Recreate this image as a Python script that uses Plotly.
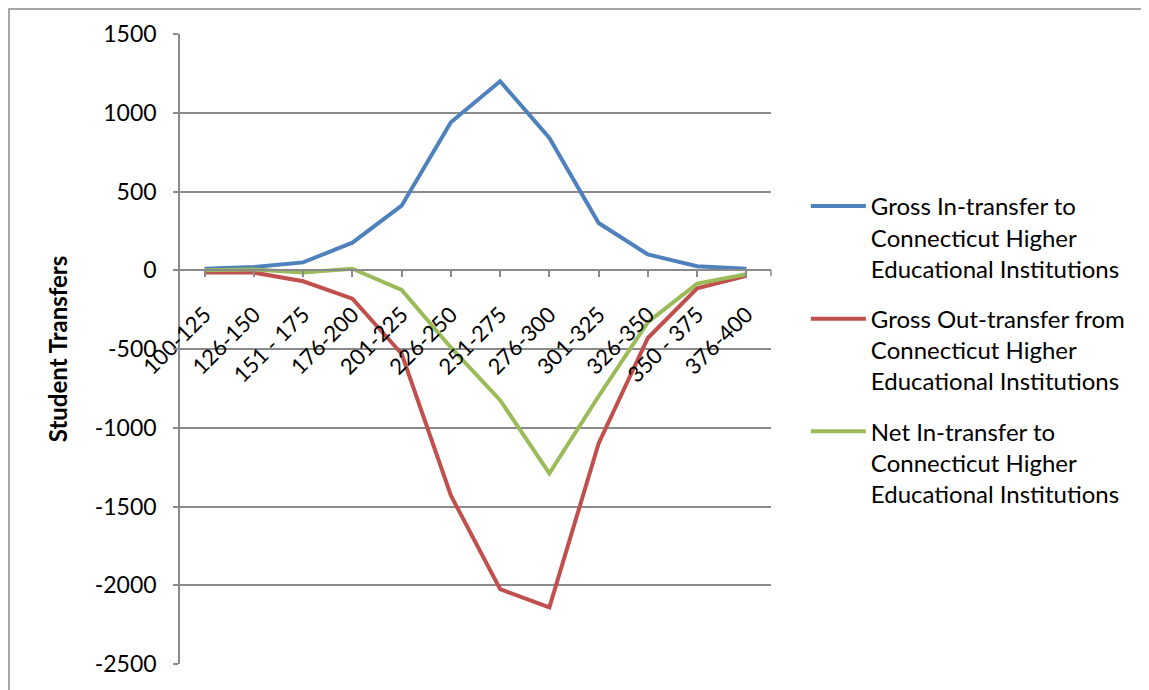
import plotly.graph_objects as go

categories = ["100-125", "126-150", "151 - 175", "176-200", "201-225", "226-250",
              "251-275", "276-300", "301-325", "326-350", "350 - 375", "376-400"]
gross_in = [10, 20, 50, 175, 410, 940, 1200, 840, 300, 100, 25, 10]
gross_out = [-15, -15, -70, -180, -530, -1430, -2025, -2140, -1100, -430, -115, -35]
net_in = [0, 5, -15, 10, -125, -490, -825, -1290, -800, -330, -85, -25]

y_tick_vals = [1500, 1000, 500, 0, -500, -1000, -1500, -2000, -2500]
y_tick_text = ["1500", "1000", "500", "0", "-500", "-1000", "-1500", "-2000", "-2500"]

series_names = [
    "Gross In-transfer to<br>Connecticut Higher<br>Educational Institutions",
    "Gross Out-transfer from<br>Connecticut Higher<br>Educational Institutions",
    "Net In-transfer to<br>Connecticut Higher<br>Educational Institutions",
]
colors = ["#4F81BD", "#C0504D", "#9BBB59"]

FONT = "Lato, Open Sans, sans-serif"
GRID = "#8a8a8a"
X_AXIS_POS = 0.625  # fraction of plot height where y = 0 sits

fig = go.Figure()
for i, (name, vals, col) in enumerate(zip(series_names, [gross_in, gross_out, net_in], colors)):
    fig.add_trace(go.Scatter(x=categories, y=vals, mode="lines", name=name,
                             legendgroup=f"g{i}",
                             line=dict(color=col, width=4)))

fig.update_layout(
    width=1149, height=690,
    margin=dict(l=172, r=386, t=26, b=34),
    paper_bgcolor="white", plot_bgcolor="white",
    font=dict(family=FONT, color="black"),
    showlegend=True,
    legend=dict(x=1.059, y=0.762, xanchor="left", yanchor="top",
                font=dict(size=24, family=FONT), tracegroupgap=16,
                itemwidth=55,
                valign="top", bgcolor="rgba(0,0,0,0)"),
    xaxis=dict(
        type="category", anchor="free", position=X_AXIS_POS,
        showline=True, linecolor=GRID, linewidth=1.5,
        ticks="outside", tickson="labels", ticklen=6, tickcolor=GRID, tickwidth=1.5,
        ticklabelstandoff=16,
        tickangle=-45, tickfont=dict(size=22, family=FONT),
        showgrid=False, zeroline=False,
        range=[-0.5, 11.5],
    ),
    yaxis=dict(
        range=[-2500, 1500], tickmode="array", tickvals=y_tick_vals, ticktext=y_tick_text,
        showline=True, linecolor=GRID, linewidth=1.5,
        ticks="outside", ticklen=5, tickcolor=GRID, tickwidth=1.5,
        ticklabelstandoff=12,
        showgrid=True, gridcolor=GRID, gridwidth=1.5,
        zeroline=False,
        tickfont=dict(size=23, family=FONT),
        title=dict(text="<b>Student Transfers</b>", font=dict(size=24, family=FONT), standoff=20),
    ),
    shapes=[
        dict(type="rect", xref="paper", yref="paper",
             x0=(1 - 172) / 591, y0=-0.2, x1=2, y1=1 + 25 / 630,
             line=dict(color=GRID, width=1.5), fillcolor="rgba(0,0,0,0)", layer="below"),
        # end tick of the category axis
        dict(type="line", xref="paper", yref="paper",
             x0=1, x1=1, y0=X_AXIS_POS, y1=X_AXIS_POS - 6 / 630,
             line=dict(color=GRID, width=1.5)),
    ],
)

fig.write_html("out.html")
